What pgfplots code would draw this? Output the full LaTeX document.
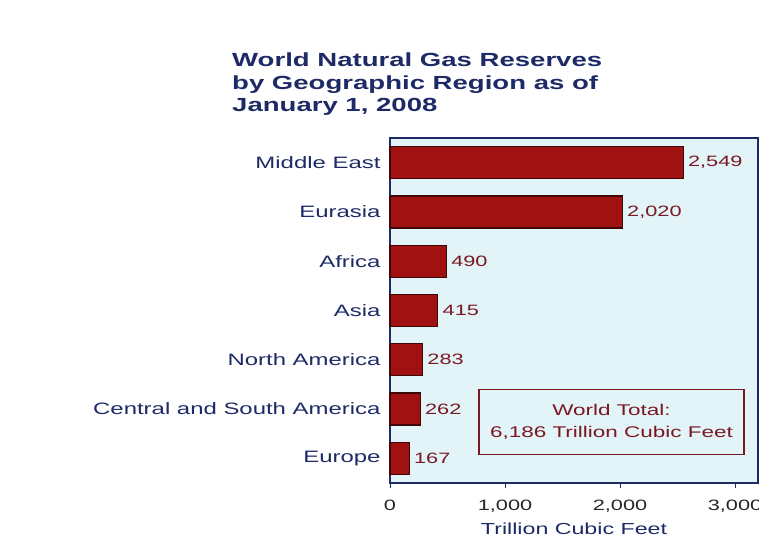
\documentclass[border=0pt]{standalone}
\usepackage{pgfplots}
\pgfplotsset{compat=1.18}
\usepackage{fontspec}
\setmainfont{Liberation Sans}[FakeStretch=1.45]
\definecolor{navy}{HTML}{1E2A66}
\definecolor{barred}{HTML}{A01212}
\definecolor{bardark}{HTML}{3E0808}
\definecolor{valred}{HTML}{7A1822}
\definecolor{bgblue}{HTML}{E2F4F8}
\begin{document}
\begin{tikzpicture}[x=1pt,y=1pt]
\path[use as bounding box] (0,0) rectangle (759,546);
\node[anchor=north west, align=left, text=navy, font=\fontsize{19}{22.5}\selectfont\bfseries, inner sep=0pt] at (232,493)
  {World Natural Gas Reserves\\by Geographic Region as of\\January 1, 2008};
\begin{axis}[
  at={(390pt,63pt)}, anchor=south west,
  scale only axis, width=368pt, height=345pt,
  xmin=0, xmax=3200, ymin=-0.5, ymax=6.5, y dir=reverse,
  axis background/.style={fill=bgblue},
  axis line style={navy, line width=1.2pt},
  xbar, bar width=32pt,
  /pgf/number format/assume math mode=true,
  xtick={0,1000,2000,3000},
  xticklabels={0,{1,000},{2,000},{3,000}},
  x tick label style={font=\fontsize{15}{18}\selectfont, text=black!85, yshift=-8pt},
  xtick pos=bottom, xtick style={navy, line width=1pt},
  major tick length=5pt, tick align=outside,
  ytick={0,...,6},
  yticklabels={Middle East,Eurasia,Africa,Asia,North America,Central and South America,Europe},
  y tick label style={font=\fontsize{16.5}{19}\selectfont, text=navy, xshift=-1pt},
  ytick style={draw=none},
  xlabel={Trillion Cubic Feet},
  xlabel style={font=\fontsize{16}{19}\selectfont, text=navy, yshift=-4pt},
  nodes near coords,
  point meta=x,
  every node near coord/.append style={font=\fontsize{15}{18}\selectfont, text=valred, xshift=1pt,
    /pgf/number format/.cd, fixed, 1000 sep={,}, assume math mode=true},
  clip=false,
]
\addplot[fill=barred, draw=bardark, line width=1.2pt] coordinates {
  (2549,0) (2020,1) (490,2) (415,3) (283,4) (262,5) (167,6)
};
\node[draw=valred, line width=1.2pt, text=valred, align=center,
  minimum width=265pt, minimum height=65pt, inner sep=0pt,
  font=\fontsize{15.5}{22}\selectfont] at (axis cs:1926,5.26)
  {World Total:\\6,186 Trillion Cubic Feet};
\end{axis}
\end{tikzpicture}
\end{document}
